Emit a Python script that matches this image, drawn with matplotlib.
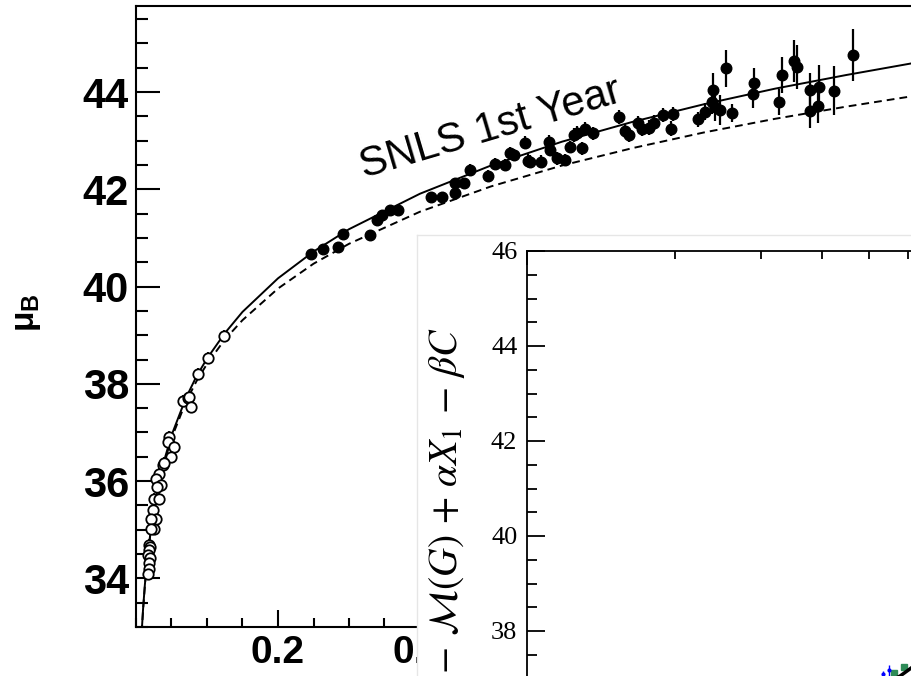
import matplotlib
matplotlib.use("Agg")
import matplotlib.pyplot as plt
from matplotlib.ticker import MultipleLocator, FixedLocator, LogLocator, NullFormatter

# SNLS 1st year supernovae (filled circles)
snls_z = [0.247, 0.263, 0.285, 0.292, 0.330, 0.339, 0.346, 0.358, 0.369, 0.416,
          0.431, 0.449, 0.449, 0.462, 0.470, 0.496, 0.505, 0.520, 0.527, 0.533,
          0.548, 0.552, 0.555, 0.571, 0.581, 0.583, 0.593, 0.604, 0.611, 0.617,
          0.621, 0.628, 0.632, 0.643, 0.680, 0.689, 0.695, 0.707, 0.712, 0.722,
          0.729, 0.742, 0.753, 0.757, 0.792, 0.801, 0.812, 0.811, 0.815, 0.822,
          0.831, 0.840, 0.869, 0.870, 0.906, 0.910, 0.927, 0.931, 0.950, 0.950,
          0.962, 0.961, 0.983, 1.010]
snls_mu = [40.68, 40.78, 40.82, 41.09, 41.06, 41.37, 41.47, 41.57, 41.57, 41.85,
           41.85, 42.13, 41.93, 42.12, 42.40, 42.27, 42.53, 42.50, 42.75, 42.70,
           42.96, 42.59, 42.57, 42.57, 42.98, 42.81, 42.64, 42.60, 42.87, 43.12,
           43.16, 42.84, 43.25, 43.15, 43.49, 43.20, 43.12, 43.36, 43.25, 43.27,
           43.37, 43.53, 43.25, 43.55, 43.44, 43.60, 44.04, 43.80, 43.70, 43.63,
           44.49, 43.57, 43.97, 44.19, 43.80, 44.35, 44.64, 44.52, 44.04, 43.62,
           44.11, 43.71, 44.03, 44.76]
snls_err = [0.10, 0.10, 0.10, 0.10, 0.10, 0.10, 0.10, 0.10, 0.10, 0.10,
            0.10, 0.10, 0.10, 0.12, 0.12, 0.12, 0.12, 0.12, 0.12, 0.12,
            0.13, 0.13, 0.13, 0.13, 0.13, 0.13, 0.13, 0.13, 0.13, 0.14,
            0.14, 0.14, 0.14, 0.14, 0.15, 0.15, 0.15, 0.15, 0.15, 0.15,
            0.15, 0.15, 0.15, 0.15, 0.16, 0.18, 0.35, 0.25, 0.30, 0.30,
            0.38, 0.18, 0.30, 0.30, 0.27, 0.37, 0.43, 0.45, 0.35, 0.35,
            0.45, 0.35, 0.50, 0.53]

# nearby supernovae (open circles)
nearby_z = [0.124, 0.101, 0.087, 0.066, 0.073, 0.075, 0.077, 0.047, 0.045, 0.054,
            0.049, 0.038, 0.040, 0.033, 0.028, 0.035, 0.030, 0.026, 0.033, 0.024,
            0.028, 0.021, 0.026, 0.021, 0.018, 0.020, 0.019, 0.017, 0.020, 0.018,
            0.019, 0.017]
nearby_mu = [38.98, 38.53, 38.20, 37.65, 37.70, 37.72, 37.52, 36.91, 36.80, 36.70,
             36.50, 36.33, 36.38, 36.15, 36.05, 35.91, 35.88, 35.64, 35.63, 35.40,
             35.23, 35.23, 35.02, 35.02, 34.68, 34.65, 34.58, 34.48, 34.41, 34.31,
             34.20, 34.09]
nearby_err = [0.12] * len(nearby_z)

# model curves
model_z = [0.008, 0.01, 0.0125, 0.015, 0.02, 0.025, 0.03, 0.04, 0.05, 0.07,
           0.085, 0.1, 0.125, 0.15, 0.2, 0.25, 0.3, 0.4, 0.5, 0.6,
           0.7, 0.8, 0.9, 1.0, 1.1]
lcdm_mu = [32.89, 33.38, 33.87, 34.27, 34.90, 35.39, 35.80, 36.44, 36.94, 37.70,
           38.15, 38.52, 39.04, 39.48, 40.17, 40.72, 41.18, 41.91, 42.49, 42.98,
           43.39, 43.75, 44.07, 44.35, 44.61]
matter_mu = [32.88, 33.36, 33.85, 34.25, 34.88, 35.36, 35.76, 36.39, 36.88, 37.62,
             38.05, 38.41, 38.91, 39.31, 39.96, 40.47, 40.88, 41.54, 42.06, 42.49,
             42.85, 43.17, 43.45, 43.70, 43.93]

# pieces of the second figure visible in its lower right corner
inset_blue_z = [0.0534, 0.0549]
inset_blue_mu = [37.10, 37.17]
inset_blue_err = [0.06, 0.12]
inset_green_z = [0.0561, 0.0588]
inset_green_mu = [37.12, 37.25]
inset_curve_z = [0.055, 0.0577, 0.0608]
inset_curve_mu = [36.95, 37.05, 37.22]

W, H = 912, 676


def box(x0, y0, x1, y1):
    return [x0 / W, 1 - y1 / H, (x1 - x0) / W, (y1 - y0) / H]


plt.rcParams.update({
    "font.family": "Liberation Sans",
    "mathtext.fontset": "custom",
    "mathtext.rm": "Liberation Sans:bold",
    "mathtext.it": "Liberation Sans:bold",
    "mathtext.bf": "Liberation Sans:bold",
})

fig = plt.figure(figsize=(W / 100, H / 100), dpi=100)

ax = fig.add_axes(box(136, 6, 988, 627))
ax.plot(model_z, lcdm_mu, color="black", lw=1.4, zorder=2)
ax.plot(model_z, matter_mu, color="black", lw=1.4, ls=(0, (4, 2.6)), zorder=2)
ax.errorbar(nearby_z, nearby_mu, yerr=nearby_err, fmt="o", ms=7.5, mfc="white",
            mec="black", mew=1.3, ecolor="black", elinewidth=1.3, capsize=0, zorder=3)
ax.errorbar(snls_z, snls_mu, yerr=snls_err, fmt="o", ms=7.6, mfc="black",
            mec="black", ecolor="black", elinewidth=1.6, capsize=0, zorder=4)
ax.set_xlim(0, 1.2)
ax.set_ylim(33.0, 45.77)
ax.xaxis.set_major_locator(FixedLocator([0.2, 0.4, 0.6, 0.8, 1.0]))
ax.xaxis.set_minor_locator(MultipleLocator(0.05))
ax.yaxis.set_major_locator(MultipleLocator(2))
ax.yaxis.set_minor_locator(MultipleLocator(0.5))
ax.tick_params(which="both", direction="in", top=False, right=False, width=1.5)
ax.tick_params(axis="y", which="major", length=17, pad=5, labelsize=30)
ax.tick_params(axis="y", which="minor", length=8.6)
ax.tick_params(axis="x", which="major", length=12.5, pad=6, labelsize=28)
ax.tick_params(axis="x", which="minor", length=6.7)
for lab in ax.get_xticklabels() + ax.get_yticklabels():
    lab.set_fontweight("bold")
for sp in ax.spines.values():
    sp.set_linewidth(1.5)
ax.text(0.321, 42.24, "SNLS 1st Year", fontsize=30, rotation=16.5,
        rotation_mode="anchor", ha="left", va="baseline")
fig.text(28 / W, 1 - 313 / H, r"$\mu_B$", rotation=90, ha="center", va="center",
         fontsize=24, math_fontfamily="custom")

# white frame of the second figure
frame = fig.add_axes(box(417, 235, 1400, 900), zorder=5)
frame.set_xticks([])
frame.set_yticks([])
for sp in frame.spines.values():
    sp.set_color("#e6e6e6")
    sp.set_linewidth(1.0)

ax2 = fig.add_axes(box(527, 251, 1507, 821), zorder=6)
ax2.set_xscale("log")
ax2.set_xlim(0.01, 1.0)
ax2.set_ylim(34, 46)
ax2.errorbar(inset_blue_z, inset_blue_mu, yerr=inset_blue_err, fmt="o", ms=2,
             color="blue", elinewidth=1.0, capsize=0)
ax2.plot(inset_green_z, inset_green_mu, "s", ms=5, color="#2e8b57")
ax2.plot(inset_curve_z, inset_curve_mu, color="black", lw=2.5)
ax2.yaxis.set_major_locator(MultipleLocator(2))
ax2.yaxis.set_minor_locator(MultipleLocator(0.5))
ax2.xaxis.set_minor_locator(LogLocator(base=10, subs=range(2, 10)))
ax2.xaxis.set_minor_formatter(NullFormatter())
ax2.tick_params(which="both", direction="in", top=True, right=True, width=1.3,
                labelbottom=False)
ax2.tick_params(axis="y", which="major", length=13, pad=7, labelsize=19)
ax2.tick_params(axis="y", which="minor", length=7.2)
ax2.tick_params(axis="x", which="major", length=10)
ax2.tick_params(axis="x", which="minor", length=5.5)
for lab in ax2.get_yticklabels():
    lab.set_fontfamily("Liberation Serif")
for sp in ax2.spines.values():
    sp.set_linewidth(1.3)
fig.text(447 / W, 1 - 327 / H,
         r"$m_B^{\star}\,-\,\mathcal{M}(G)\,+\,\alpha X_1\,-\,\beta C$",
         rotation=90, ha="center", va="top", fontsize=28.5, math_fontfamily="stix",
         zorder=7)

fig.savefig("out.png", dpi=100)
